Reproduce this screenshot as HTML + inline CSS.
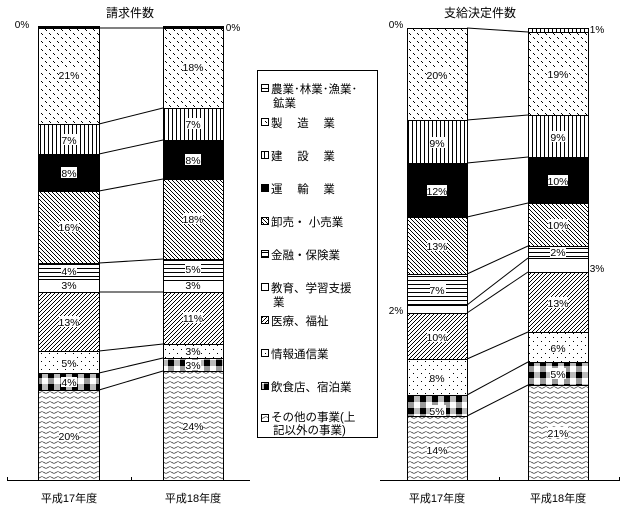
<!DOCTYPE html>
<html><head><meta charset="utf-8"><style>
html,body{margin:0;padding:0;background:#fff;}
svg{display:block;font-family:"Liberation Sans","Noto Sans CJK JP",sans-serif;}
</style></head><body>
<svg width="628" height="516" viewBox="0 0 628 516" xmlns="http://www.w3.org/2000/svg">
<defs>
<pattern id="sp" width="8" height="8" patternUnits="userSpaceOnUse"><rect width="8" height="8" fill="#fff"/><rect x="1" y="1" width="1" height="1" fill="#000"/><rect x="2" y="2" width="1" height="1" fill="#000"/><rect x="5" y="5" width="1" height="1" fill="#000"/><rect x="6" y="6" width="1" height="1" fill="#000"/></pattern>
<pattern id="vt" width="4" height="4" patternUnits="userSpaceOnUse"><rect width="4" height="4" fill="#fff"/><rect x="0" width="1" height="4" fill="#000"/></pattern>
<pattern id="bs" width="4" height="4" patternUnits="userSpaceOnUse"><rect width="4" height="4" fill="#fff"/><rect x="0" y="0" width="1" height="1"/><rect x="1" y="1" width="1" height="1"/><rect x="2" y="2" width="1" height="1"/><rect x="3" y="3" width="1" height="1"/></pattern>
<pattern id="fs" width="4" height="4" patternUnits="userSpaceOnUse"><rect width="4" height="4" fill="#fff"/><rect x="3" y="0" width="1" height="1"/><rect x="2" y="1" width="1" height="1"/><rect x="1" y="2" width="1" height="1"/><rect x="0" y="3" width="1" height="1"/></pattern>
<pattern id="hz" width="4" height="4" patternUnits="userSpaceOnUse"><rect width="4" height="4" fill="#fff"/><rect y="0" width="4" height="1" fill="#000"/></pattern>
<pattern id="dt" width="8" height="8" patternUnits="userSpaceOnUse"><rect width="8" height="8" fill="#fff"/><rect x="1" y="1" width="1" height="1"/><rect x="5" y="5" width="1" height="1"/></pattern>
<pattern id="ck" width="12" height="12" patternUnits="userSpaceOnUse"><rect width="12" height="12" fill="#999"/><rect width="6" height="6" fill="#000"/><rect x="6" y="6" width="6" height="6" fill="#fff"/><rect x="6" y="0" width="6" height="6" fill="#bbb"/></pattern>
<pattern id="wv" width="8" height="5" patternUnits="userSpaceOnUse"><rect width="8" height="5" fill="#fff"/><path d="M0 2.5 Q2 1 4 2.5 T8 2.5" fill="none" stroke="#000" stroke-width="0.6"/></pattern>
</defs>
<g font-size="11" text-anchor="middle">
<text x="130" y="17" font-size="12">請求件数</text>
<text x="480" y="17" font-size="12">支給決定件数</text>
<text x="22" y="28" font-size="10">0%</text>
<text x="233" y="31" font-size="10">0%</text>
<text x="396" y="28" font-size="10">0%</text>
<text x="597" y="33" font-size="10">1%</text>
<text x="597" y="272" font-size="10">3%</text>
<text x="396" y="314" font-size="10">2%</text>
<text x="69" y="502">平成17年度</text>
<text x="193" y="502">平成18年度</text>
<text x="437" y="502">平成17年度</text>
<text x="558" y="502">平成18年度</text>
</g>
<g stroke="#000" stroke-width="1">
<line x1="7" y1="480.5" x2="250" y2="480.5"/><line x1="131.5" y1="477" x2="131.5" y2="481"/><line x1="7.5" y1="477" x2="7.5" y2="481"/>
<line x1="380" y1="480.5" x2="620" y2="480.5"/><line x1="499.5" y1="477" x2="499.5" y2="481"/><line x1="619.5" y1="477" x2="619.5" y2="481"/>
</g>
<g stroke="#000" stroke-width="1">
<rect x="38.5" y="26.5" width="61" height="2" fill="#000"/>
<rect x="38.5" y="28.5" width="61" height="96" fill="url(#sp)"/>
<rect x="38.5" y="124.5" width="61" height="30" fill="url(#vt)"/>
<rect x="38.5" y="154.5" width="61" height="37" fill="#000"/>
<rect x="38.5" y="191.5" width="61" height="72" fill="url(#bs)"/>
<rect x="38.5" y="263.5" width="61" height="16" fill="url(#hz)"/>
<rect x="38.5" y="279.5" width="61" height="13" fill="#fff"/>
<rect x="38.5" y="292.5" width="61" height="59" fill="url(#fs)"/>
<rect x="38.5" y="351.5" width="61" height="22" fill="url(#dt)"/>
<rect x="38.5" y="373.5" width="61" height="17" fill="url(#ck)"/>
<rect x="38.5" y="390.5" width="61" height="90" fill="url(#wv)"/>
<rect x="163.5" y="26.5" width="60" height="2" fill="#000"/>
<rect x="163.5" y="28.5" width="60" height="80" fill="url(#sp)"/>
<rect x="163.5" y="108.5" width="60" height="32" fill="url(#vt)"/>
<rect x="163.5" y="140.5" width="60" height="39" fill="#000"/>
<rect x="163.5" y="179.5" width="60" height="80" fill="url(#bs)"/>
<rect x="163.5" y="259.5" width="60" height="21" fill="url(#hz)"/>
<rect x="163.5" y="280.5" width="60" height="12" fill="#fff"/>
<rect x="163.5" y="292.5" width="60" height="52" fill="url(#fs)"/>
<rect x="163.5" y="344.5" width="60" height="14" fill="url(#dt)"/>
<rect x="163.5" y="358.5" width="60" height="13" fill="url(#ck)"/>
<rect x="163.5" y="371.5" width="60" height="109" fill="url(#wv)"/>
<line x1="99" y1="28" x2="163" y2="28"/>
<line x1="99" y1="124" x2="163" y2="108"/>
<line x1="99" y1="154" x2="163" y2="140"/>
<line x1="99" y1="191" x2="163" y2="179"/>
<line x1="99" y1="263" x2="163" y2="259"/>
<line x1="99" y1="292" x2="163" y2="292"/>
<line x1="99" y1="351" x2="163" y2="344"/>
<line x1="99" y1="373" x2="163" y2="358"/>
<line x1="99" y1="390" x2="163" y2="371"/>
</g>
<g stroke="#000" stroke-width="1">
<rect x="407.5" y="28.5" width="60" height="92" fill="url(#sp)"/>
<rect x="407.5" y="120.5" width="60" height="43" fill="url(#vt)"/>
<rect x="407.5" y="163.5" width="60" height="54" fill="#000"/>
<rect x="407.5" y="217.5" width="60" height="57" fill="url(#bs)"/>
<rect x="407.5" y="274.5" width="60" height="31" fill="url(#hz)"/>
<rect x="407.5" y="305.5" width="60" height="8" fill="#fff"/>
<rect x="407.5" y="313.5" width="60" height="46" fill="url(#fs)"/>
<rect x="407.5" y="359.5" width="60" height="36" fill="url(#dt)"/>
<rect x="407.5" y="395.5" width="60" height="21" fill="url(#ck)"/>
<rect x="407.5" y="416.5" width="60" height="64" fill="url(#wv)"/>
<rect x="528.5" y="28.5" width="60" height="4" fill="url(#vt)"/>
<rect x="528.5" y="32.5" width="60" height="83" fill="url(#sp)"/>
<rect x="528.5" y="115.5" width="60" height="42" fill="url(#vt)"/>
<rect x="528.5" y="157.5" width="60" height="46" fill="#000"/>
<rect x="528.5" y="203.5" width="60" height="43" fill="url(#bs)"/>
<rect x="528.5" y="246.5" width="60" height="12" fill="url(#hz)"/>
<rect x="528.5" y="258.5" width="60" height="14" fill="#fff"/>
<rect x="528.5" y="272.5" width="60" height="60" fill="url(#fs)"/>
<rect x="528.5" y="332.5" width="60" height="30" fill="url(#dt)"/>
<rect x="528.5" y="362.5" width="60" height="23" fill="url(#ck)"/>
<rect x="528.5" y="385.5" width="60" height="95" fill="url(#wv)"/>
<line x1="467" y1="28" x2="528" y2="32"/>
<line x1="467" y1="120" x2="528" y2="115"/>
<line x1="467" y1="163" x2="528" y2="157"/>
<line x1="467" y1="217" x2="528" y2="203"/>
<line x1="467" y1="274" x2="528" y2="246"/>
<line x1="467" y1="305" x2="528" y2="258"/>
<line x1="467" y1="313" x2="528" y2="272"/>
<line x1="467" y1="359" x2="528" y2="332"/>
<line x1="467" y1="395" x2="528" y2="362"/>
<line x1="467" y1="416" x2="528" y2="385"/>
</g>
<g font-size="10.5" text-anchor="middle">
<g fill="#fff">
<rect x="59" y="69" width="20" height="11"/><rect x="183" y="61" width="20" height="11"/>
<rect x="61" y="134" width="16" height="11"/><rect x="185" y="118" width="16" height="11"/>
<rect x="61" y="167" width="16" height="11"/><rect x="185" y="154" width="16" height="11"/>
<rect x="59" y="221" width="20" height="11"/><rect x="183" y="213" width="20" height="11"/>
<rect x="61" y="266" width="16" height="10"/><rect x="185" y="264" width="16" height="10"/>
<rect x="59" y="316" width="20" height="11"/><rect x="183" y="312" width="20" height="11"/>
<rect x="61" y="357" width="16" height="11"/><rect x="185" y="346" width="16" height="10"/>
<rect x="61" y="377" width="16" height="10"/><rect x="185" y="360" width="16" height="10"/>
<rect x="59" y="430" width="20" height="11"/><rect x="183" y="420" width="20" height="11"/>
<rect x="427" y="69" width="20" height="11"/><rect x="548" y="68" width="20" height="11"/>
<rect x="430" y="137" width="16" height="11"/><rect x="550" y="131" width="16" height="11"/>
<rect x="427" y="185" width="20" height="11"/><rect x="548" y="175" width="20" height="11"/>
<rect x="427" y="240" width="20" height="11"/><rect x="548" y="219" width="20" height="11"/>
<rect x="430" y="284" width="16" height="11"/><rect x="550" y="247" width="16" height="10"/>
<rect x="427" y="331" width="20" height="11"/><rect x="548" y="297" width="20" height="11"/>
<rect x="430" y="372" width="16" height="11"/><rect x="550" y="342" width="16" height="11"/>
<rect x="430" y="405" width="16" height="11"/><rect x="550" y="368" width="16" height="11"/>
<rect x="427" y="444" width="20" height="11"/><rect x="548" y="427" width="20" height="11"/>
</g>
<text x="69" y="79">21%</text><text x="193" y="71">18%</text>
<text x="69" y="144">7%</text><text x="193" y="128">7%</text>
<text x="69" y="177">8%</text><text x="193" y="164">8%</text>
<text x="69" y="231">16%</text><text x="193" y="223">18%</text>
<text x="69" y="275">4%</text><text x="193" y="273">5%</text>
<text x="69" y="289">3%</text><text x="193" y="289">3%</text>
<text x="69" y="326">13%</text><text x="193" y="322">11%</text>
<text x="69" y="367">5%</text><text x="193" y="355">3%</text>
<text x="69" y="386">4%</text><text x="193" y="369">3%</text>
<text x="69" y="440">20%</text><text x="193" y="430">24%</text>
<text x="437" y="79">20%</text><text x="558" y="78">19%</text>
<text x="437" y="147">9%</text><text x="558" y="141">9%</text>
<text x="437" y="195">12%</text><text x="558" y="185">10%</text>
<text x="437" y="250">13%</text><text x="558" y="229">10%</text>
<text x="437" y="294">7%</text><text x="558" y="256">2%</text>
<text x="437" y="341">10%</text><text x="558" y="307">13%</text>
<text x="437" y="382">8%</text><text x="558" y="352">6%</text>
<text x="437" y="415">5%</text><text x="558" y="378">5%</text>
<text x="437" y="454">14%</text><text x="558" y="437">21%</text>
</g>
<rect x="257.5" y="70.5" width="120" height="367" fill="#fff" stroke="#000"/>
<g font-size="11.5">
<g stroke="#000" stroke-width="1">
<rect x="261.5" y="84.5" width="7" height="7" fill="url(#hz)"/>
<rect x="261.5" y="118.5" width="7" height="7" fill="url(#sp)"/>
<rect x="261.5" y="151.5" width="7" height="7" fill="url(#vt)"/>
<rect x="261.5" y="184.5" width="7" height="7" fill="#000"/>
<rect x="261.5" y="217.5" width="7" height="7" fill="url(#bs)"/>
<rect x="261.5" y="250.5" width="7" height="7" fill="url(#hz)"/>
<rect x="261.5" y="283.5" width="7" height="7" fill="#fff"/>
<rect x="261.5" y="316.5" width="7" height="7" fill="url(#fs)"/>
<rect x="261.5" y="349.5" width="7" height="7" fill="url(#dt)"/>
<rect x="261.5" y="382.5" width="7" height="7" fill="url(#ck)"/>
<rect x="261.5" y="414.5" width="7" height="7" fill="url(#wv)"/>
</g>
<text x="271" y="93">農業･林業･漁業･</text><text x="273" y="107">鉱業</text>
<text x="271" y="127">製　 造　 業</text>
<text x="271" y="160">建　 設　 業</text>
<text x="271" y="193">運　 輸　 業</text>
<text x="271" y="226">卸売・ 小売業</text>
<text x="271" y="259">金融・保険業</text>
<text x="271" y="292">教育、学習支援</text><text x="273" y="306">業</text>
<text x="271" y="325">医療、福祉</text>
<text x="271" y="358">情報通信業</text>
<text x="271" y="391">飲食店、宿泊業</text>
<text x="271" y="421">その他の事業(上</text><text x="273" y="434">記以外の事業)</text>
</g>
</svg>
</body></html>
